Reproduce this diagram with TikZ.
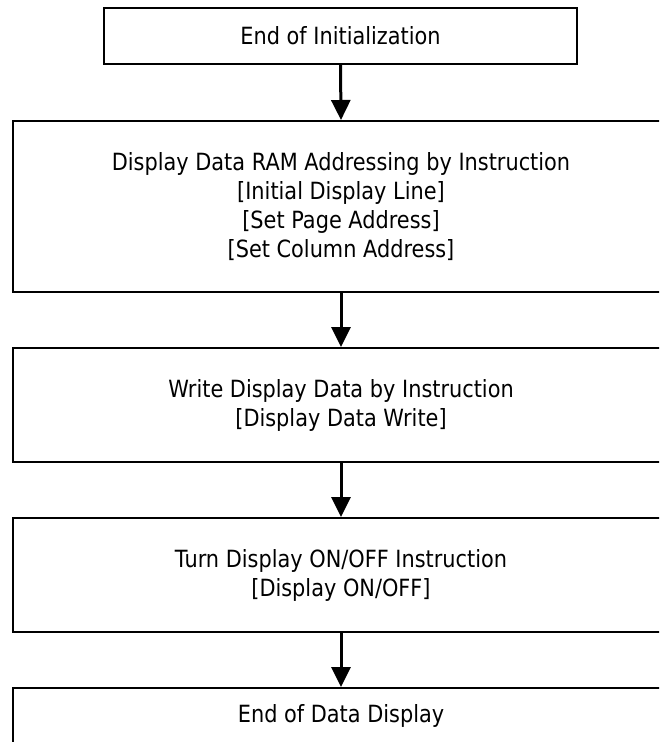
\documentclass[tikz,border=0pt]{standalone}
\usepackage{fontspec}
\setmainfont{DejaVu Sans}[FakeStretch=0.88]
\usetikzlibrary{arrows.meta}
\begin{document}
\begin{tikzpicture}[x=1pt,y=1pt,
  box/.style={draw,line width=2pt,inner sep=0pt,align=center,
    font=\fontsize{23.7}{29}\selectfont},
  flow/.style={line width=3pt,-{Triangle[width=19pt,length=20pt]}}]
\useasboundingbox (0,0) rectangle (659,-742);
\fill[white] (0,0) rectangle (659,-742);
\clip (0,0) rectangle (659,-742);
\node[box,minimum width=473pt,minimum height=56pt] (b1) at (340.5,-36) {End of Initialization};
\node[box,minimum width=657pt,minimum height=171pt] (b2) at (341,-206.5)
  {Display Data RAM Addressing by Instruction\\{[Initial Display Line]}\\{[Set Page Address]}\\{[Set Column Address]}};
\node[box,minimum width=657pt,minimum height=114pt] (b3) at (341,-405)
  {Write Display Data by Instruction\\{[Display Data Write]}};
\node[box,minimum width=657pt,minimum height=114pt] (b4) at (341,-575)
  {Turn Display ON/OFF Instruction\\{[Display ON/OFF]}};
\node[box,minimum width=657pt,minimum height=56pt] (b5) at (341,-716) {End of Data Display};
\draw[flow] (b1.south) -- (b2.north);
\draw[flow] (b2.south) -- (b3.north);
\draw[flow] (b3.south) -- (b4.north);
\draw[flow] (b4.south) -- (b5.north);
\end{tikzpicture}
\end{document}
